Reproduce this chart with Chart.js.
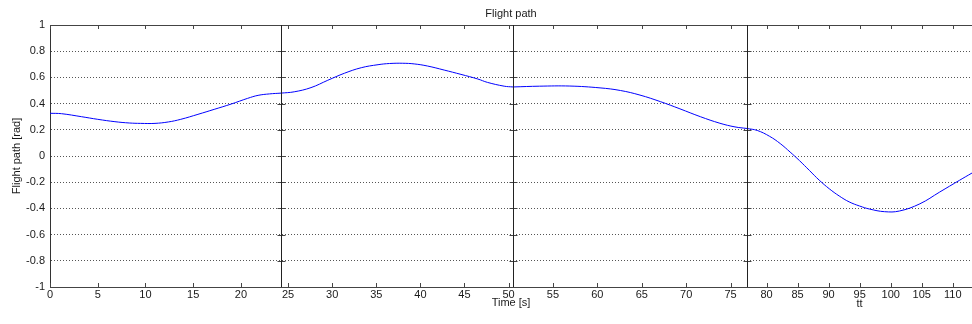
<!DOCTYPE html>
<html>
<head>
<meta charset="utf-8">
<script src="https://cdn.jsdelivr.net/npm/chart.js@4/dist/chart.umd.min.js"></script>
<style>
    body { margin: 0; background: #ffffff; }
    canvas { display: block; }
</style>
</head>
<body>
<canvas id="flightChart" width="972" height="324"></canvas>
<script>
// Flight path, plotted as four side-by-side phases (each phase has its own time axis)

const yTicksMin = -1;
const yTicksMax = 1;
const yTickStep = 0.2;
const xTickStep = 5;

// phase boundaries [s]
const phaseStart = [0, 24.2, 50.5, 76.85];
const phaseEnd = [24.2, 50.5, 76.85, 113.1];

// phase 1
const phase1Time = [0, 1.2, 3.3, 5.0, 6.8, 8.3, 9.5, 11, 12.4, 13.7, 15.5, 17.2, 19.0, 20.7, 21.8, 23.0, 24.2];
const phase1Path = [0.326, 0.323, 0.30, 0.28, 0.262, 0.252, 0.249, 0.249, 0.26, 0.28, 0.318, 0.356, 0.397, 0.44, 0.463, 0.474, 0.48];

// phase 2
const phase2Time = [24.2, 25.7, 27.6, 29.5, 31.4, 33.3, 35.2, 36.5, 38.0, 39.3, 40.8, 42.7, 44.6, 46.5, 47.6, 49.5, 50.5];
const phase2Path = [0.48, 0.49, 0.522, 0.578, 0.632, 0.674, 0.697, 0.706, 0.708, 0.703, 0.687, 0.656, 0.623, 0.588, 0.562, 0.533, 0.527];

// phase 3
const phase3Time = [50.5, 53.5, 56.9, 60.3, 62.6, 64.8, 67.1, 69.3, 71.6, 73.8, 75.5, 76.85];
const phase3Path = [0.527, 0.533, 0.534, 0.52, 0.50, 0.465, 0.415, 0.36, 0.30, 0.25, 0.222, 0.21];

// phase 4
const phase4Time = [76.85, 78.5, 80.5, 82.2, 83.8, 85.3, 86.9, 88.5, 90.1, 91.7, 93.3, 95.0, 96.6, 99.0, 101.4, 104.7, 107.9, 111.1, 113.1];
const phase4Path = [0.21, 0.195, 0.15, 0.095, 0.03, -0.035, -0.11, -0.185, -0.25, -0.305, -0.35, -0.382, -0.405, -0.425, -0.42, -0.365, -0.275, -0.185, -0.13];

const phaseTimes = [phase1Time, phase2Time, phase3Time, phase4Time];
const phasePaths = [phase1Path, phase2Path, phase3Path, phase4Path];
const phaseAxisTitles = ['', '', '', 'tt'];

const FONT = { family: 'Liberation Sans, Arial, sans-serif', size: 11, lineHeight: 1 };
const TEXT = '#1a1a1a';
const phaseWidths = [231, 232, 234, 225];

// MATLAB-like box: top edge, inward ticks and the black phase separators
const framePlugin = {
    id: 'frame',
    afterDraw(chart) {
        const ctx = chart.ctx;
        const area = chart.chartArea;
        const yScale = chart.scales.y;
        const xScales = phaseStart.map((s, i) => chart.scales['x' + (i + 1)]);

        ctx.save();
        ctx.lineWidth = 1;

        ctx.strokeStyle = '#444444';
        ctx.beginPath();
        ctx.moveTo(area.left, area.top + 0.5);
        ctx.lineTo(area.right, area.top + 0.5);
        xScales.forEach(scale => {
            scale.ticks.forEach(tick => {
                const px = Math.round(scale.getPixelForValue(tick.value)) + 0.5;
                ctx.moveTo(px, area.top);
                ctx.lineTo(px, area.top + 4);
                ctx.moveTo(px, area.bottom);
                ctx.lineTo(px, area.bottom - 4);
            });
        });
        xScales.forEach((scale, i) => {
            if (i === 0) return;
            const px = Math.round(scale.left) + 0.5;
            yScale.ticks.forEach(tick => {
                const py = Math.round(yScale.getPixelForValue(tick.value)) + 0.5;
                ctx.moveTo(px - 4, py);
                ctx.lineTo(px + 4, py);
            });
        });
        ctx.stroke();

        ctx.strokeStyle = '#222222';
        ctx.beginPath();
        xScales.forEach((scale, i) => {
            if (i === 0) return;
            const px = Math.round(scale.left) + 0.5;
            ctx.moveTo(px, area.top);
            ctx.lineTo(px, area.bottom);
        });
        ctx.stroke();
        ctx.restore();
    }
};

const datasets = phaseTimes.map((times, i) => ({
    label: 'Phase ' + (i + 1),
    data: times.map((t, j) => ({ x: t, y: phasePaths[i][j] })),
    xAxisID: 'x' + (i + 1),
    yAxisID: 'y',
    borderColor: '#0000ff',
    borderWidth: 1,
    pointRadius: 0,
    fill: false,
    tension: 0.4
}));

const scales = {
    y: {
        type: 'linear',
        position: 'left',
        min: yTicksMin,
        max: yTicksMax,
        ticks: {
            stepSize: yTickStep,
            color: TEXT,
            font: FONT,
            padding: 5,
            callback: value => String(Number(value.toFixed(1)))
        },
        grid: { color: '#555555', lineWidth: 1, drawTicks: false },
        border: { display: true, color: '#333333', dash: [1, 2] },
        title: { display: true, text: 'Flight path [rad]', color: TEXT, font: FONT, padding: { top: 11, bottom: 0 } },
        afterFit(scale) { scale.width = 50; }
    }
};

phaseStart.forEach((start, i) => {
    scales['x' + (i + 1)] = {
        type: 'linear',
        position: 'bottom',
        stack: 'time',
        stackWeight: phaseWidths[i],
        min: start,
        max: phaseEnd[i],
        ticks: {
            stepSize: xTickStep,
            includeBounds: false,
            autoSkip: false,
            maxRotation: 0,
            color: TEXT,
            font: FONT,
            padding: 2
        },
        grid: { drawOnChartArea: false, drawTicks: false },
        border: { display: true, color: '#444444' },
        title: {
            display: phaseAxisTitles[i] !== '',
            text: phaseAxisTitles[i],
            color: TEXT,
            font: FONT,
            padding: { top: 0, bottom: 0 }
        },
        afterFit(scale) {
            scale.height = 22;
            scale.paddingLeft = 0;
            scale.paddingRight = 0;
        }
    };
});

new Chart(document.getElementById('flightChart'), {
    type: 'line',
    data: { datasets: datasets },
    options: {
        responsive: false,
        animation: false,
        devicePixelRatio: 1,
        layout: { padding: { left: 0, right: 0, top: 0, bottom: 14 } },
        plugins: {
            legend: { display: false },
            tooltip: { enabled: false },
            title: {
                display: true,
                text: 'Flight path',
                position: 'top',
                fullSize: false,
                color: TEXT,
                font: { family: FONT.family, size: 11, weight: 'normal', lineHeight: 1 },
                padding: { top: 8, bottom: 6 }
            },
            subtitle: {
                display: true,
                text: 'Time [s]',
                position: 'bottom',
                fullSize: false,
                color: TEXT,
                font: { family: FONT.family, size: 11, weight: 'normal', lineHeight: 1 },
                padding: { top: -12, bottom: 2 }
            }
        },
        scales: scales
    },
    plugins: [framePlugin]
});
</script>
</body>
</html>
